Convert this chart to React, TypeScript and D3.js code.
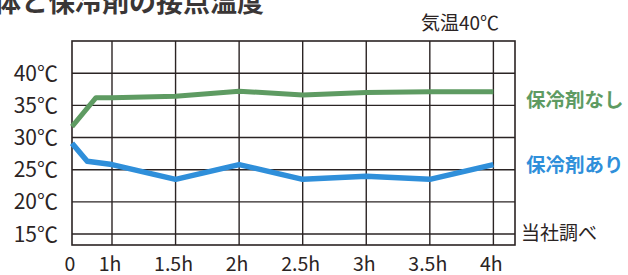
import React from "react";
import * as d3 from "d3";

// time axis (hours) and labels
const xTickValues = [0, 1, 1.5, 2, 2.5, 3, 3.5, 4];
const xTickLabels = ["0", "1h", "1.5h", "2h", "2.5h", "3h", "3.5h", "4h"];
const yTickValues = [15, 20, 25, 30, 35, 40];

// 保冷剤なし (green)
const noPackTimes = [0, 0.6, 1, 1.5, 2, 2.5, 3, 3.5, 4];
const noPackTemps = [31.7, 36.2, 36.2, 36.4, 37.2, 36.6, 37.0, 37.1, 37.1];

// 保冷剤あり (blue)
const withPackTimes = [0, 0.38, 1, 1.5, 2, 2.5, 3, 3.5, 4];
const withPackTemps = [29.1, 26.3, 25.8, 23.5, 25.8, 23.5, 24.0, 23.5, 25.8];

const W = 628;
const H = 275;
const GREEN = "#5e9b62";
const BLUE = "#2f8fda";
const INK = "#2b2424";
const FONT = "'Noto Sans CJK JP', 'Noto Sans', sans-serif";

const App: React.FC = () => {
    const plot = { left: 72, right: 515, top: 41, bottom: 245 };

    // first hour is drawn compressed, so use a piecewise linear scale
    const x = d3.scaleLinear().domain([0, 1, 4.17]).range([plot.left, 112, plot.right]);
    const y = d3.scaleLinear().domain([13.3, 45]).range([plot.bottom, plot.top]);

    const line = d3.line<[number, number]>()
        .x(d => x(d[0]))
        .y(d => y(d[1]));

    const greenPath = line(noPackTimes.map((t, i) => [t, noPackTemps[i]] as [number, number])) || "";
    const bluePath = line(withPackTimes.map((t, i) => [t, withPackTemps[i]] as [number, number])) || "";

    return (
        <svg
            width={W}
            height={H}
            style={{ position: "absolute", top: 0, left: 0, background: "#fff" }}
            fontFamily={FONT}
        >
            {/* title, cropped at the top like the source */}
            <text x={-6} y={12} fontSize={27} fontWeight={700} fill="#3a3636">
                体と保冷剤の接点温度
            </text>
            <text x={421} y={30} fontSize={19} fill={INK}>気温40℃</text>

            {/* grid */}
            {yTickValues.map(v => (
                <line key={"h" + v} x1={plot.left} x2={plot.right} y1={y(v)} y2={y(v)}
                    stroke={INK} strokeWidth={1.4} />
            ))}
            {xTickValues.filter(t => t > 0).map(t => (
                <line key={"v" + t} x1={x(t)} x2={x(t)} y1={plot.top} y2={plot.bottom}
                    stroke={INK} strokeWidth={1.4} />
            ))}
            <rect x={plot.left} y={plot.top} width={plot.right - plot.left} height={plot.bottom - plot.top}
                fill="none" stroke={INK} strokeWidth={1.6} />

            {/* y labels */}
            {yTickValues.map(v => (
                <text key={"yl" + v} x={58} y={y(v)} dy="0.36em" textAnchor="end" fontSize={21} fill={INK}>
                    {v}℃
                </text>
            ))}

            {/* x labels */}
            {xTickValues.map((t, i) => (
                <text key={"xl" + t} x={x(t) - 2} y={264} dy="0.36em" textAnchor="middle" fontSize={19.5} fill={INK}>
                    {xTickLabels[i]}
                </text>
            ))}

            {/* series */}
            <path d={greenPath} fill="none" stroke={GREEN} strokeWidth={5} strokeLinejoin="round" />
            <path d={bluePath} fill="none" stroke={BLUE} strokeWidth={5.5} strokeLinejoin="round" />

            {/* legend labels */}
            <text x={526} y={100} dy="0.36em" fontSize={19.5} fontWeight={700} fill={GREEN}>保冷剤なし</text>
            <text x={526} y={165} dy="0.36em" fontSize={19.5} fontWeight={700} fill={BLUE}>保冷剤あり</text>
            <text x={521} y={233} dy="0.36em" fontSize={19} fill={INK}>当社調べ</text>
        </svg>
    );
};

export default App;
